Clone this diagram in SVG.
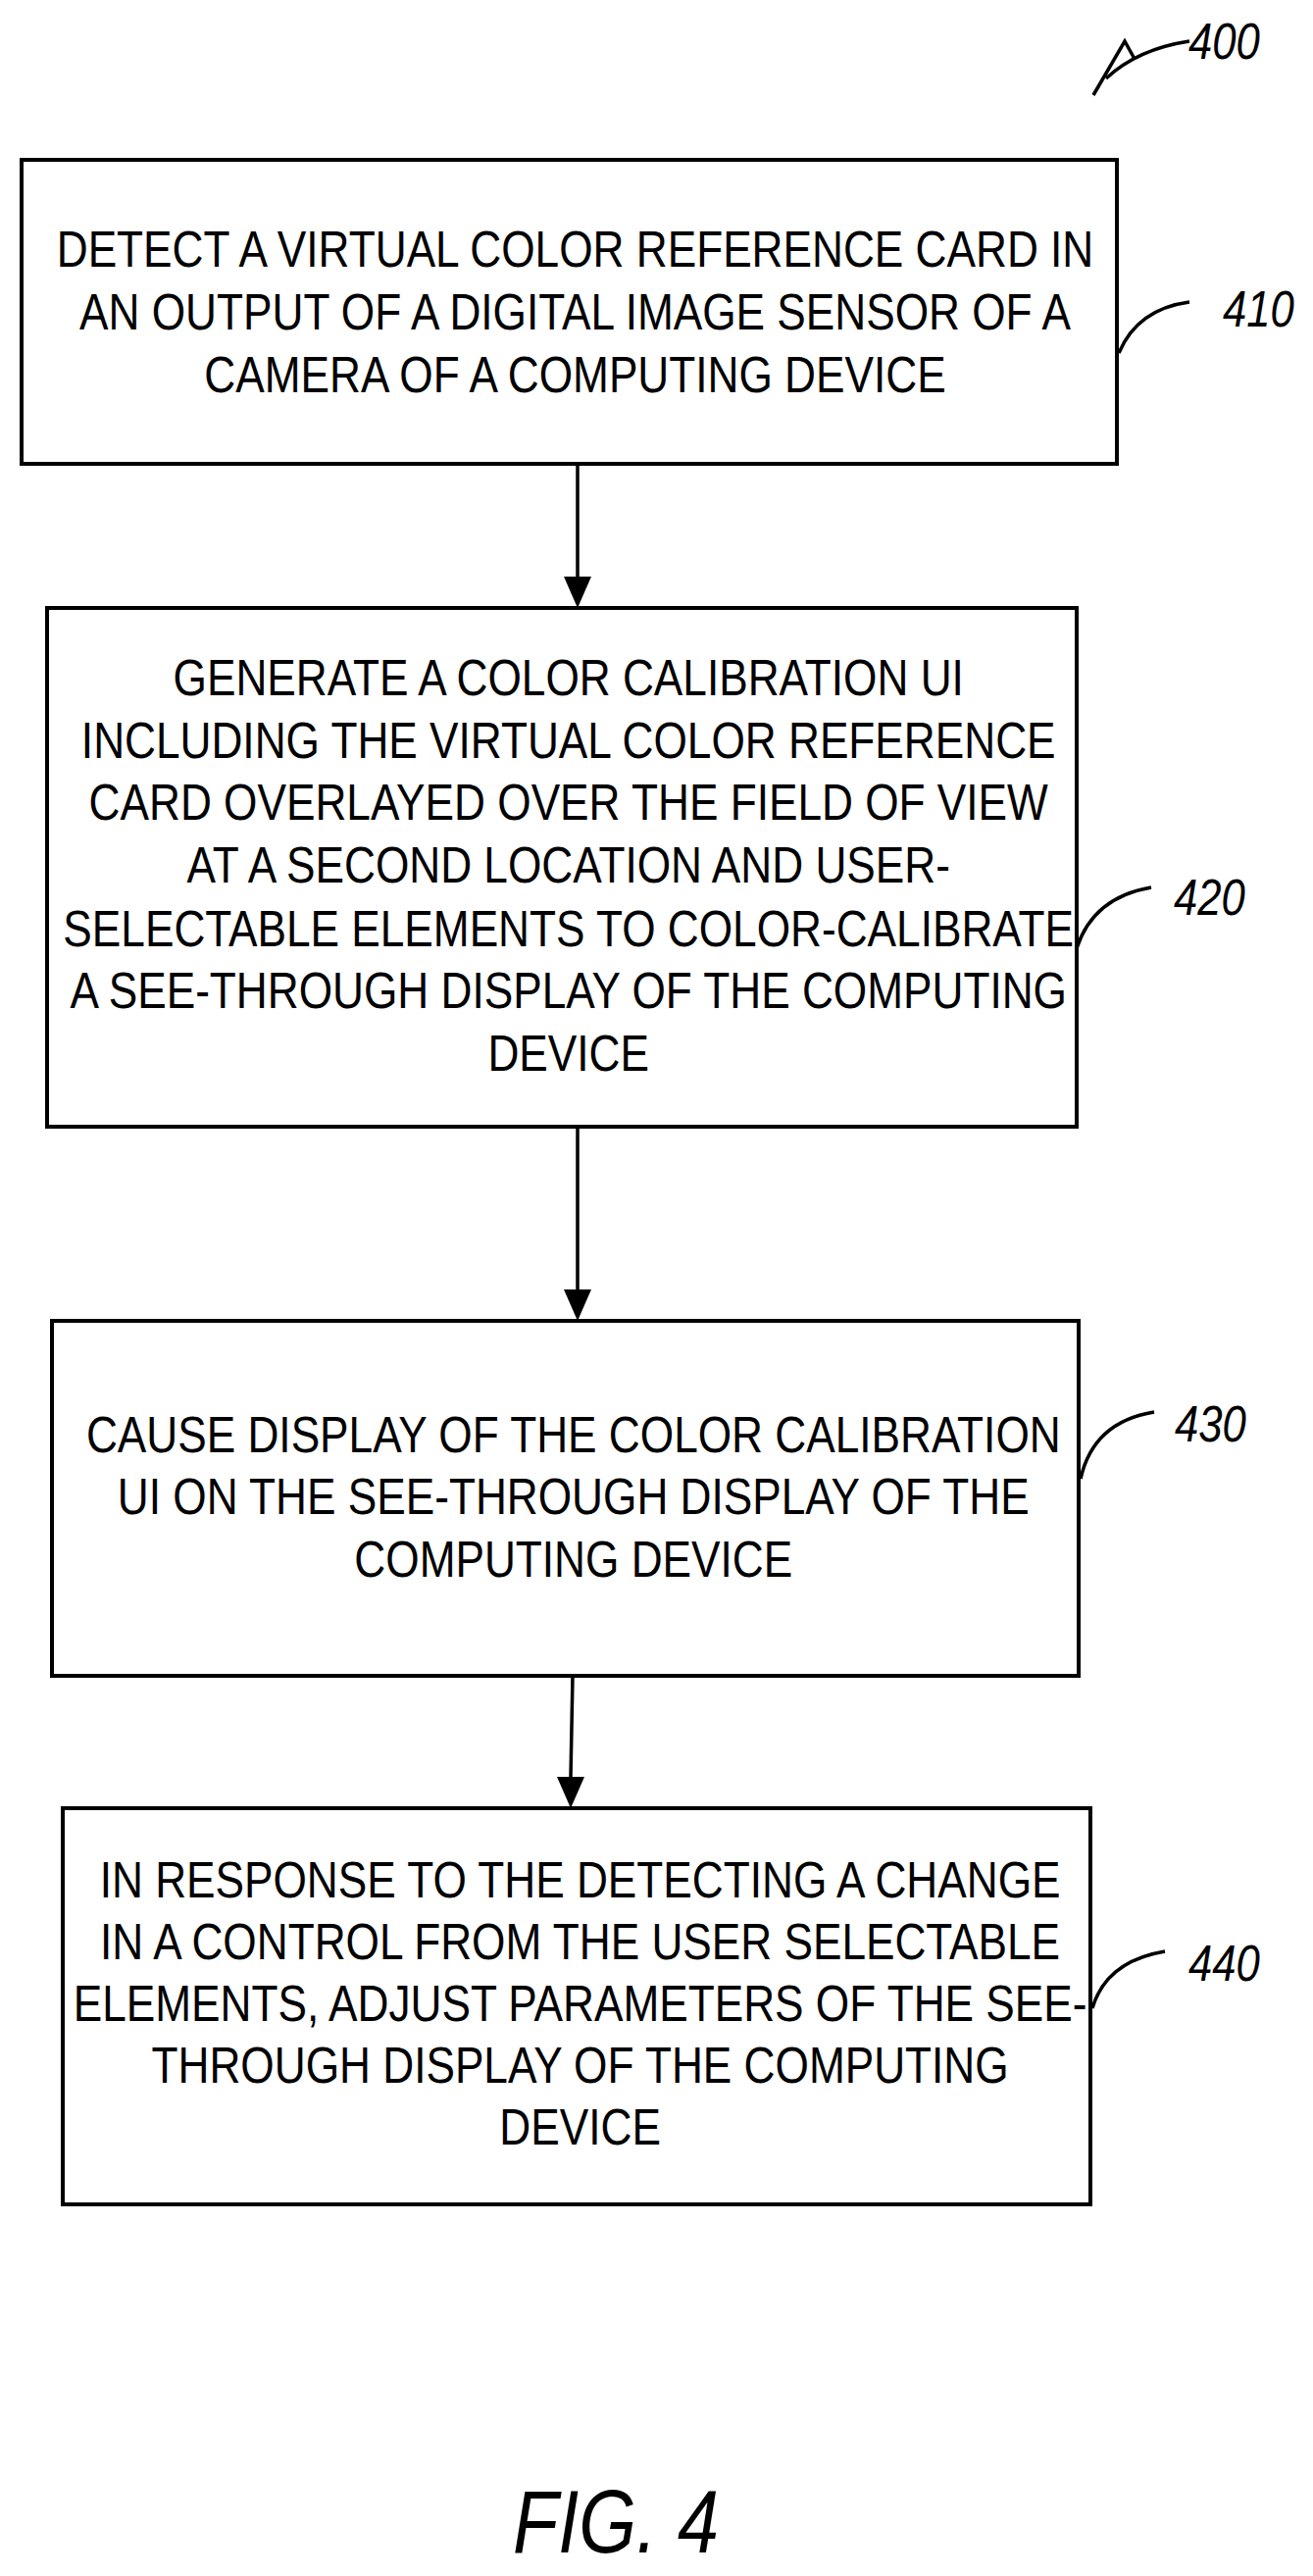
<svg xmlns="http://www.w3.org/2000/svg" width="1339" height="2627" viewBox="0 0 1339 2627">
<style>
.box{fill:#fff;stroke:#000;stroke-width:4}
.t{font-family:"Liberation Sans",Arial,sans-serif;font-size:52px;fill:#000;text-anchor:middle}
.n{font-family:"Liberation Sans",Arial,sans-serif;font-size:52px;font-style:italic;fill:#000}
.ln{fill:none;stroke:#000;stroke-width:3.5}
</style>
<defs>
<marker id="ah" markerUnits="userSpaceOnUse" markerWidth="28" markerHeight="36" refX="14" refY="34" orient="auto" viewBox="0 0 28 36">
<path d="M0,0 L28,0 L14,34 Z" fill="#000" transform="rotate(-90 14 18) translate(0 0)"/>
</marker>
</defs>
<rect width="1339" height="2627" fill="#fff"/>
<g id="connectors">
<path class="ln" d="M589,473 V588"/><path d="M575,588 H603 L589,620 Z"/>
<path class="ln" d="M589,1149 V1315"/><path d="M575,1315 H603 L589,1347 Z"/>
<path class="ln" d="M584,1709 L582,1812"/><path d="M568,1812 H596 L582,1844 Z"/>
</g>
<g id="ref400">
<path class="ln" d="M1115,97 L1147,42 L1157,60"/>
<path class="ln" d="M1128,80 Q1160,50 1213,42"/>
<text class="n" transform="translate(1212,60) scale(0.84,1)">400</text>
</g>
<g id="n410">
<rect class="box" x="22" y="163" width="1117" height="310"/>
<g class="t" transform="scale(0.85,1)">
<text x="690" y="272">DETECT A VIRTUAL COLOR REFERENCE CARD IN</text>
<text x="690" y="336">AN OUTPUT OF A DIGITAL IMAGE SENSOR OF A</text>
<text x="690" y="400">CAMERA OF A COMPUTING DEVICE</text>
</g>
<path class="ln" d="M1141,360 Q1160,315 1213,308"/>
<text class="n" transform="translate(1247,333) scale(0.84,1)">410</text>
</g>
<g id="n420">
<rect class="box" x="48" y="620" width="1050" height="529"/>
<g class="t" transform="scale(0.85,1)">
<text x="682" y="709">GENERATE A COLOR CALIBRATION UI</text>
<text x="682" y="773">INCLUDING THE VIRTUAL COLOR REFERENCE</text>
<text x="682" y="836">CARD OVERLAYED OVER THE FIELD OF VIEW</text>
<text x="682" y="900">AT A SECOND LOCATION AND USER-</text>
<text x="682" y="965">SELECTABLE ELEMENTS TO COLOR-CALIBRATE</text>
<text x="682" y="1028">A SEE-THROUGH DISPLAY OF THE COMPUTING</text>
<text x="682" y="1092">DEVICE</text>
</g>
<path class="ln" d="M1098,967 Q1115,915 1174,905"/>
<text class="n" transform="translate(1197,933) scale(0.84,1)">420</text>
</g>
<g id="n430">
<rect class="box" x="53" y="1347" width="1047" height="362"/>
<g class="t" transform="scale(0.85,1)">
<text x="688" y="1481">CAUSE DISPLAY OF THE COLOR CALIBRATION</text>
<text x="688" y="1544">UI ON THE SEE-THROUGH DISPLAY OF THE</text>
<text x="688" y="1608">COMPUTING DEVICE</text>
</g>
<path class="ln" d="M1102,1508 Q1115,1450 1177,1440"/>
<text class="n" transform="translate(1198,1470) scale(0.84,1)">430</text>
</g>
<g id="n440">
<rect class="box" x="64" y="1844" width="1048" height="404"/>
<g class="t" transform="scale(0.85,1)">
<text x="696" y="1935">IN RESPONSE TO THE DETECTING A CHANGE</text>
<text x="696" y="1998">IN A CONTROL FROM THE USER SELECTABLE</text>
<text x="696" y="2061">ELEMENTS, ADJUST PARAMETERS OF THE SEE-</text>
<text x="696" y="2124">THROUGH DISPLAY OF THE COMPUTING</text>
<text x="696" y="2187">DEVICE</text>
</g>
<path class="ln" d="M1114,2048 Q1128,2000 1188,1990"/>
<text class="n" transform="translate(1212,2020) scale(0.84,1)">440</text>
</g>
<text class="n" transform="translate(523,2603) scale(0.84,1)" style="font-size:90px">FIG. 4</text>
</svg>
